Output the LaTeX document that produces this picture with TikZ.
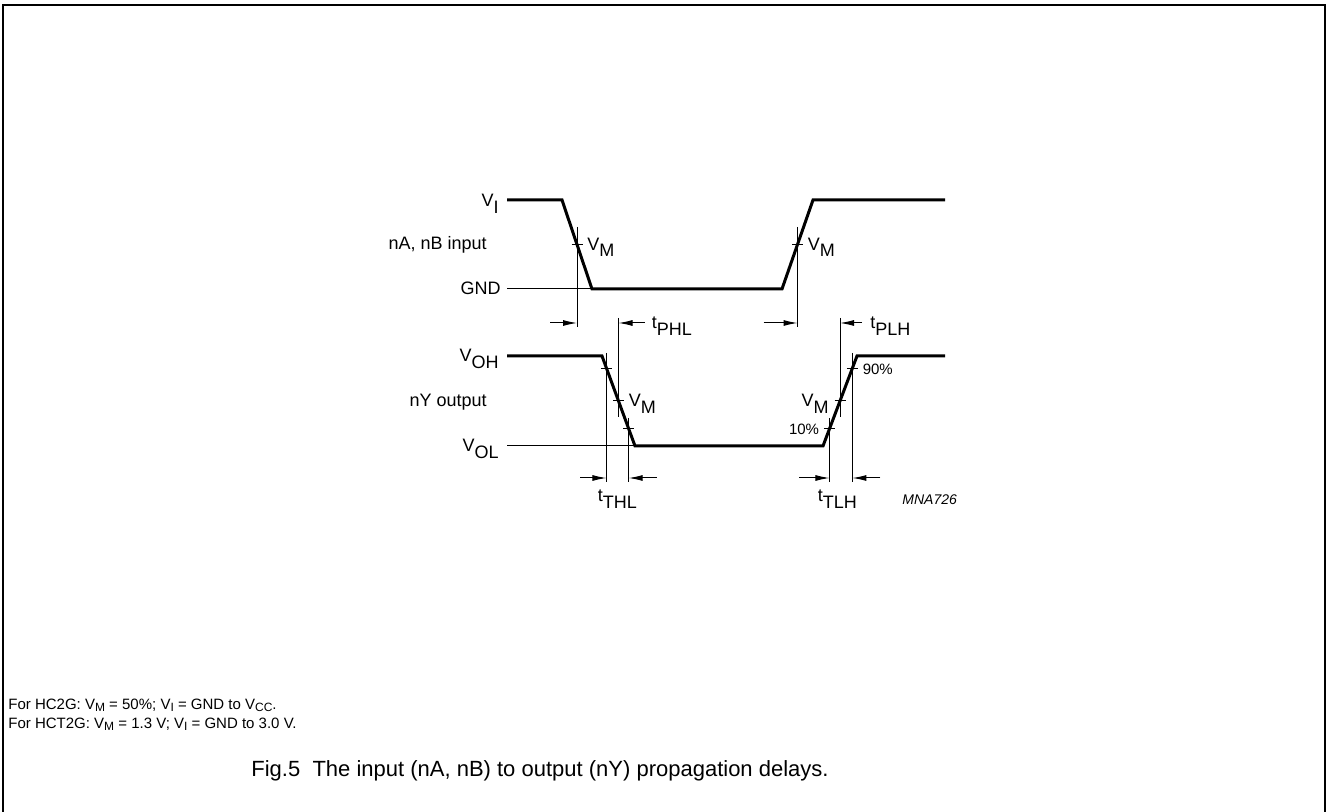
\documentclass[tikz,border=0pt]{standalone}
\usepackage{fontspec}
\setmainfont{Liberation Sans}
\usetikzlibrary{calc, positioning, arrows.meta}

\newcommand{\lowsub}[1]{\raisebox{-0.65ex}{#1}}
\newcommand{\notesub}[1]{\raisebox{-0.35ex}{\fontsize{6}{6}\selectfont #1}}

\tikzset{
	signal/.style={line width=1.5pt, line join=miter},
	thinline/.style={line width=0.5pt},
	dimarrow/.style={line width=0.5pt, -{Latex[length=7pt, width=3pt]}},
	lbl/.style={inner sep=0pt, font=\fontsize{9}{10}\selectfont},
	pct/.style={inner sep=0pt, font=\fontsize{7.5}{8}\selectfont},
	note/.style={inner sep=0pt, font=\fontsize{7.5}{8}\selectfont},
}

\begin{document}
\begin{tikzpicture}[x=0.5pt, y=-0.5pt]
	\useasboundingbox (0,0) rectangle (1329,812);
	\draw[line width=1pt] (3,812) -- (3,5) -- (1325,5) -- (1325,812);

	% rows used by the measuring lines
	\coordinate (r1) at (0,227);
	\coordinate (r2) at (0,327);
	\coordinate (r3) at (0,318);
	\coordinate (r4) at (0,417);
	\coordinate (r5) at (0,353);
	\coordinate (r6) at (0,482);
	\coordinate (r7) at (0,418);
	\coordinate (ar1) at (0,323);
	\coordinate (ar2) at (0,478);

	% input
	\coordinate (in0) at (507,200);
	\coordinate (inA) at (562,200);
	\coordinate (inB) at (592,289);
	\coordinate (inC) at (782,289);
	\coordinate (inD) at (813,200);
	\coordinate (inE) at (945,200);
	\coordinate (gnd) at (507,289);
	\draw[thinline] (gnd) -- (inB);
	\draw[signal] (in0) -- (inA) -- (inB) -- (inC) -- (inD) -- (inE);

	% output
	\coordinate (out0) at (507,356);
	\coordinate (outA) at (602,356);
	\coordinate (outB) at (635,446);
	\coordinate (outC) at (823,446);
	\coordinate (outD) at (857,356);
	\coordinate (outE) at (945,356);
	\coordinate (vol) at (507,446);
	\draw[thinline] (vol) -- (outB);
	\draw[signal] (out0) -- (outA) -- (outB) -- (outC) -- (outD) -- (outE);

	% switching points
	\coordinate (mi1) at ($(inA)!0.5!(inB)$);
	\coordinate (mi2) at ($(inC)!0.5!(inD)$);
	\coordinate (mo1) at ($(outA)!0.5!(outB)$);
	\coordinate (mo2) at ($(outC)!0.5!(outD)$);
	\coordinate (h1) at ($(outA)!0.135!(outB)$);
	\coordinate (l1) at ($(outA)!0.81!(outB)$);
	\coordinate (l2) at ($(outC)!0.19!(outD)$);
	\coordinate (h2) at ($(outC)!0.865!(outD)$);

	\foreach \p in {mi1,mi2,mo1,mo2,h1,l1,l2,h2}
		\draw[thinline] ($(\p)+(-5.5,0)$) -- ($(\p)+(5.5,0)$);

	\foreach \p/\a/\b in {mi1/r1/r2, mi2/r1/r2, mo1/r3/r4, mo2/r3/r4, h1/r5/r6, l1/r7/r6, l2/r7/r6, h2/r5/r6}
		\draw[thinline] (\p |- \a) -- (\p |- \b);

	\foreach \p/\r/\d in {mi1/ar1/-27, mi2/ar1/-34, mo1/ar1/26, mo2/ar1/22, h1/ar2/-26, l1/ar2/28, l2/ar2/-30, h2/ar2/28}
		\draw[dimarrow] ($(\p |- \r)+(\d,0)$) -- (\p |- \r);

	% labels
	\node[lbl, anchor=base east] (vi) at (499,207) {V\lowsub{I}};
	\node[lbl, anchor=east] (inlbl) at (487,245) {nA, nB input};
	\node[lbl, anchor=base east] (gndlbl) at (501,295) {GND};
	\node[lbl, anchor=base east] (voh) at (499,362) {V\lowsub{OH}};
	\node[lbl, anchor=east] (outlbl) at (487,402) {nY output};
	\node[lbl, anchor=base east] (volbl) at (499,452) {V\lowsub{OL}};

	\node[lbl, anchor=base west] (vm1) at ($(mi1)+(10,6)$) {V\lowsub{M}};
	\node[lbl, anchor=base west] (vm2) at ($(mi2)+(10,6)$) {V\lowsub{M}};
	\node[lbl, anchor=base west] (vm3) at ($(mo1)+(10,6)$) {V\lowsub{M}};
	\node[lbl, anchor=base east] (vm4) at ($(mo2)+(-11,6)$) {V\lowsub{M}};
	\node[pct, anchor=base east] (p10) at ($(l2)+(-10,6)$) {10\%};
	\node[pct, anchor=base west] (p90) at ($(h2)+(10,6)$) {90\%};

	\node[lbl, anchor=base west] (tphl) at ($(mo1 |- ar1)+(33,6)$) {t\lowsub{PHL}};
	\node[lbl, anchor=base west] (tplh) at ($(mo2 |- ar1)+(30,6)$) {t\lowsub{PLH}};
	\node[lbl, anchor=base west] (tthl) at ($(h1 |- ar2)+(-9,24)$) {t\lowsub{THL}};
	\node[lbl, anchor=base west] (ttlh) at ($(l2 |- ar2)+(-12,24)$) {t\lowsub{TLH}};
	\node[inner sep=0pt, anchor=west, font=\fontsize{7}{8}\selectfont\itshape] (code) at (902,500) {MNA726};

	% notes and caption
	\node[note, anchor=base west] (note1) at (8,709) {For HC2G: V\notesub{M} = 50\%; V\notesub{I} = GND to V\notesub{CC}.};
	\node[note, anchor=base west] (note2) at (8,728) {For HCT2G: V\notesub{M} = 1.3 V; V\notesub{I} = GND to 3.0 V.};
	\node[inner sep=0pt, anchor=base, font=\fontsize{11}{12}\selectfont] (caption) at (540,776) {Fig.5\ \ The input (nA, nB) to output (nY) propagation delays.};
\end{tikzpicture}
\end{document}
